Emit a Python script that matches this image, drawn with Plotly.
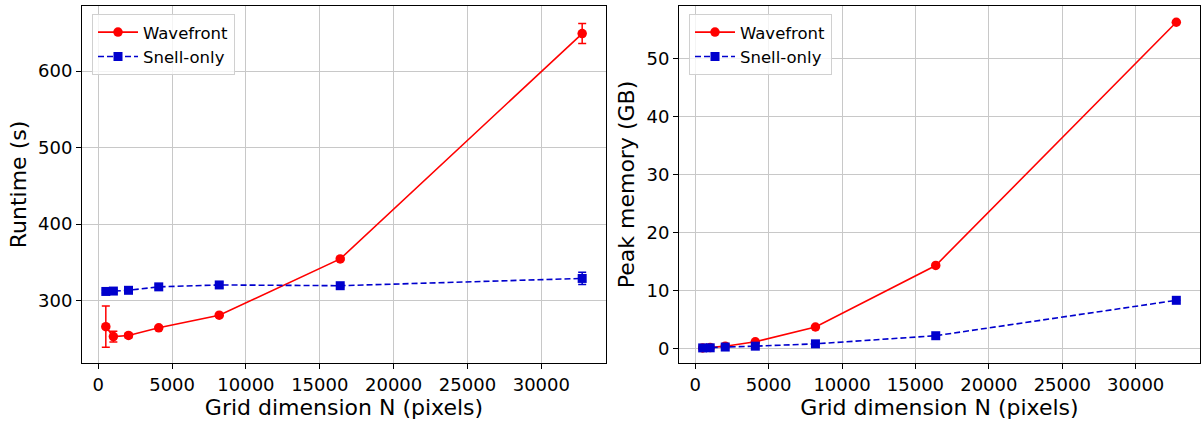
import plotly.graph_objects as go
from plotly.subplots import make_subplots

N = [512, 1024, 2048, 4096, 8192, 16384, 32768]

runtime_wave = [266, 253, 254.5, 264.5, 281, 354.5, 649]
runtime_wave_err = [27, 7, 3, 2, 2, 2, 13]
runtime_snell = [312, 312.5, 313.5, 318, 320.5, 319.5, 329]
runtime_snell_err = [2, 2, 2, 3, 4, 2, 8]

mem_wave = [0.1, 0.15, 0.4, 1.15, 3.7, 14.3, 56.2]
mem_snell = [0.1, 0.12, 0.25, 0.4, 0.8, 2.2, 8.3]
mem_err = [0, 0, 0, 0, 0, 0, 0]

xticks = [0, 5000, 10000, 15000, 20000, 25000, 30000]

RED = "#ff0000"
BLUE = "#0000cd"
FONT = "DejaVu Sans"

fig = make_subplots(rows=1, cols=2, horizontal_spacing=0.06)

def add(col, y, err, name, color, symbol, dash):
    fig.add_trace(go.Scatter(
        x=N, y=y, name=name, mode="lines+markers",
        line=dict(color=color, width=1.6, dash=dash),
        marker=dict(color=color, symbol=symbol, size=9.5 if symbol == "circle" else 9),
        error_y=dict(type="data", array=err, visible=True, color=color, thickness=1.5, width=4),
        legend="legend" if col == 1 else "legend2",
        showlegend=True,
    ), row=1, col=col)

add(1, runtime_wave, runtime_wave_err, "Wavefront", RED, "circle", "solid")
add(1, runtime_snell, runtime_snell_err, "Snell-only", BLUE, "square", "6px,3px")
add(2, mem_wave, mem_err, "Wavefront", RED, "circle", "solid")
add(2, mem_snell, mem_err, "Snell-only", BLUE, "square", "6px,3px")

W = 1202
axis_common = dict(
    showline=True, linecolor="black", linewidth=1, mirror=True,
    ticks="outside", ticklen=5, tickcolor="black", tickwidth=1,
    showgrid=True, gridcolor="#c8c8c8", gridwidth=1,
    zeroline=False,
    tickfont=dict(family=FONT, size=18, color="black"),
    title_font=dict(family=FONT, size=22, color="black"),
)

fig.update_xaxes(**axis_common, tickvals=xticks, tickformat="d",
                 range=[-1100.8, 34380.8],
                 title_text="Grid dimension N (pixels)", title_standoff=3)
fig.update_xaxes(domain=[82 / W, 606 / W], row=1, col=1)
fig.update_xaxes(domain=[679 / W, 1200 / W], row=1, col=2)

fig.update_yaxes(**axis_common)
fig.update_yaxes(range=[218.5, 685], tickvals=[300, 400, 500, 600],
                 title_text="Runtime (s)", title_standoff=5, row=1, col=1)
fig.update_yaxes(range=[-2.5, 59.0], tickvals=[0, 10, 20, 30, 40, 50],
                 title_text="Peak memory (GB)", title_standoff=5, row=1, col=2)

legend_style = dict(
    bgcolor="rgba(255,255,255,0.8)", bordercolor="#d0d0d0", borderwidth=1,
    font=dict(family=FONT, size=16.5, color="black"),
    xanchor="left", yanchor="top", tracegroupgap=0, itemwidth=40,
)
fig.update_layout(
    width=1202, height=423,
    margin=dict(l=0, r=0, t=6, b=60),
    paper_bgcolor="white", plot_bgcolor="white",
    legend=dict(**legend_style, x=92 / W, y=0.978, xref="paper", yref="paper"),
    legend2=dict(**legend_style, x=689 / W, y=0.978, xref="paper", yref="paper"),
    font=dict(family=FONT, color="black"),
)

fig.write_html("out.html")
